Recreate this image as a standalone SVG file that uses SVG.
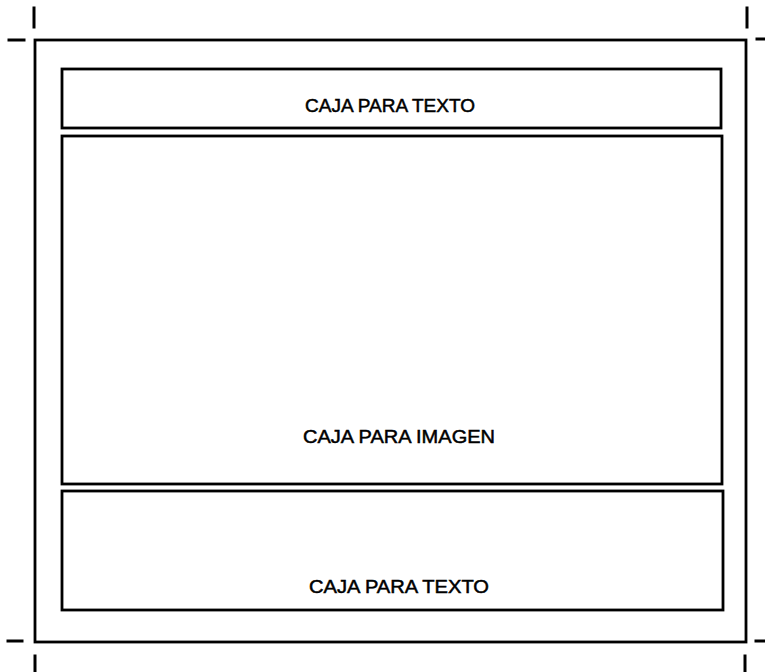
<svg xmlns="http://www.w3.org/2000/svg" width="765" height="672" viewBox="0 0 765 672">
<style>
.ln{stroke:#000;stroke-width:3;fill:none;stroke-linecap:square}
.bx{stroke:#000;stroke-width:2.8;fill:none}
.t{font-family:"Liberation Sans",Arial,sans-serif;font-size:19px;fill:#000;stroke:#000;stroke-width:0.5}
</style>
<rect width="765" height="672" fill="#fff"/>
<g id="cropmarks">
<line class="ln" x1="34" y1="8" x2="34" y2="27"/>
<line class="ln" x1="9" y1="40" x2="24" y2="40"/>
<line class="ln" x1="747" y1="8" x2="747" y2="27"/>
<line class="ln" x1="757" y1="39" x2="764" y2="39"/>
<line class="ln" x1="8" y1="641" x2="22" y2="641"/>
<line class="ln" x1="35" y1="656" x2="35" y2="671"/>
<line class="ln" x1="756" y1="641" x2="764" y2="641"/>
<line class="ln" x1="745" y1="656" x2="745" y2="671"/>
</g>
<g id="frame"><rect class="bx" x="35" y="40" width="711" height="602"/></g>
<g id="top-text-box">
<rect class="bx" x="62" y="69" width="659" height="59"/>
<text class="t" x="305" y="112" textLength="170" lengthAdjust="spacingAndGlyphs">CAJA PARA TEXTO</text>
</g>
<g id="image-box">
<rect class="bx" x="62" y="136" width="660" height="348"/>
<text class="t" x="303" y="443" textLength="192" lengthAdjust="spacingAndGlyphs">CAJA PARA IMAGEN</text>
</g>
<g id="bottom-text-box">
<rect class="bx" x="62" y="491" width="661" height="119"/>
<text class="t" x="309" y="593" textLength="180" lengthAdjust="spacingAndGlyphs">CAJA PARA TEXTO</text>
</g>
<g id="connectors"/>
</svg>
